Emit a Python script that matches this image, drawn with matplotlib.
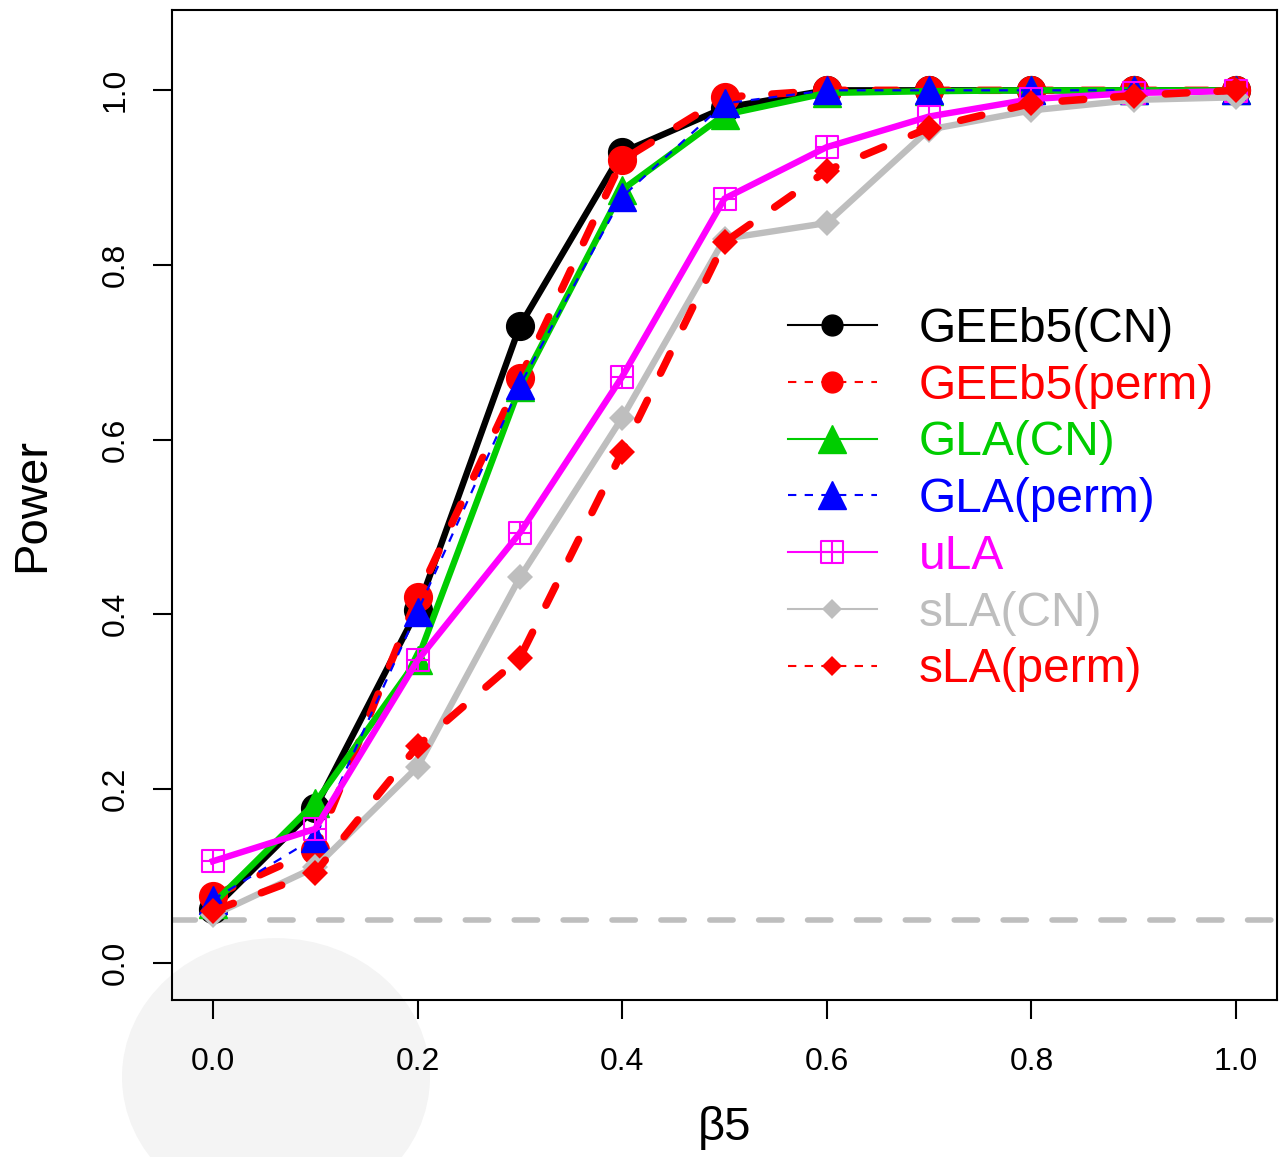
import numpy as np
import matplotlib
matplotlib.use("Agg")
import matplotlib.pyplot as plt
from matplotlib.lines import Line2D
from matplotlib.path import Path
from matplotlib.patches import Circle

# data
beta5 = [0.0, 0.1, 0.2, 0.3, 0.4, 0.5, 0.6, 0.7, 0.8, 0.9, 1.0]
gee_cn = [0.062, 0.178, 0.405, 0.730, 0.929, 0.980, 1.000, 1.000, 1.000, 1.000, 1.000]
gee_perm = [0.077, 0.130, 0.420, 0.670, 0.920, 0.992, 1.000, 1.000, 1.000, 1.000, 1.000]
gla_cn = [0.068, 0.184, 0.348, 0.660, 0.886, 0.972, 0.997, 0.999, 1.000, 1.000, 1.000]
gla_perm = [0.073, 0.144, 0.403, 0.662, 0.878, 0.985, 1.000, 1.000, 1.000, 1.000, 1.000]
ula = [0.117, 0.154, 0.347, 0.493, 0.672, 0.876, 0.935, 0.970, 0.990, 0.997, 0.999]
sla_cn = [0.055, 0.110, 0.225, 0.442, 0.625, 0.830, 0.848, 0.955, 0.977, 0.989, 0.992]
sla_perm = [0.060, 0.104, 0.249, 0.350, 0.586, 0.826, 0.908, 0.957, 0.985, 0.994, 1.000]
alpha_level = 0.05

labels = ["GEEb5(CN)", "GEEb5(perm)", "GLA(CN)", "GLA(perm)", "uLA", "sLA(CN)", "sLA(perm)"]

RED = "#FF0000"
GREEN = "#00CD00"
BLUE = "#0000FF"
MAGENTA = "#FF00FF"
GREY = "#BEBEBE"

# square with a plus inside (R pch 12)
sq_plus = Path(
    [(-1, -1), (1, -1), (1, 1), (-1, 1), (-1, -1), (0, -1), (0, 1), (-1, 0), (1, 0)],
    [Path.MOVETO, Path.LINETO, Path.LINETO, Path.LINETO, Path.CLOSEPOLY,
     Path.MOVETO, Path.LINETO, Path.MOVETO, Path.LINETO])

plt.rcParams['font.family'] = ['Liberation Sans', 'DejaVu Sans']

fig = plt.figure(figsize=(12.83, 11.57), dpi=100)
ax = fig.add_axes([172/1283, 157/1157, 1105/1283, 990/1157])
ax.set_facecolor('none')

# faint watermark disc
fig.patches.append(Circle((276/1283, 1 - 1077/1157), 154/1283, transform=fig.transFigure,
                          facecolor='#f4f4f4', edgecolor='none', zorder=-1))

ax.axhline(alpha_level, color=GREY, lw=4, ls=(0, (4.2, 4.6)), dash_capstyle='round', zorder=1)

red_dash = (0, (2.9, 4.0))
ax.plot(beta5, gee_cn, color='black', lw=4.6, marker='o', ms=20, zorder=2)
ax.plot(beta5, gee_perm, color=RED, lw=5.4, ls=red_dash, dash_capstyle='round',
        marker='o', ms=20, zorder=3)
ax.plot(beta5, gla_cn, color=GREEN, lw=4.6, marker='^', ms=20, zorder=4)
ax.plot(beta5, gla_perm, color=BLUE, lw=1.6, ls=(0, (4, 4)), marker='^', ms=20, zorder=5)
ax.plot(beta5, ula, color=MAGENTA, lw=4.6, marker=sq_plus, ms=16, mfc='none', mew=1.5, zorder=6)
ax.plot(beta5, sla_cn, color=GREY, lw=4.6, marker='D', ms=13, mew=0, zorder=7)
ax.plot(beta5, sla_perm, color=RED, lw=5.4, ls=red_dash, dash_capstyle='round',
        marker='D', ms=13, mew=0, zorder=8)

ax.set_xlim(-0.04, 1.04)
ax.set_ylim(-0.042, 1.092)
ax.set_xticks(np.arange(0, 1.01, 0.2))
ax.set_yticks(np.arange(0, 1.01, 0.2))
ax.set_xticklabels(['0.0', '0.2', '0.4', '0.6', '0.8', '1.0'])
ax.set_yticklabels(['0.0', '0.2', '0.4', '0.6', '0.8', '1.0'], rotation=90, va='center')
ax.tick_params(axis='both', length=14, width=1.5, labelsize=23, direction='out')
ax.tick_params(axis='x', pad=20)
ax.tick_params(axis='y', pad=16)
for s in ax.spines.values():
    s.set_linewidth(1.5)

ax.set_xlabel('β5', fontsize=34)
ax.set_ylabel('Power', fontsize=34)
ax.xaxis.set_label_coords(0.5, -0.129)
ax.yaxis.set_label_coords(-0.127, 0.5)
ax.xaxis.label.set_va('center')
ax.yaxis.label.set_va('center')

handles = [
    Line2D([], [], color='black', lw=1.5, marker='o', ms=15),
    Line2D([], [], color=RED, lw=1.5, ls=(0, (4, 4)), marker='o', ms=15),
    Line2D([], [], color=GREEN, lw=1.5, marker='^', ms=20),
    Line2D([], [], color=BLUE, lw=1.5, ls=(0, (4, 4)), marker='^', ms=20),
    Line2D([], [], color=MAGENTA, lw=1.5, marker=sq_plus, ms=16, mfc='none', mew=1.5),
    Line2D([], [], color=GREY, lw=1.5, marker='D', ms=10, mew=0),
    Line2D([], [], color=RED, lw=1.5, ls=(0, (4, 4)), marker='D', ms=10, mew=0),
]
text_colors = ['black', RED, GREEN, BLUE, MAGENTA, GREY, RED]
leg = ax.legend(handles, labels, loc='upper left', bbox_to_anchor=((788-172)/1105, (1000-307)/990),
                frameon=False, fontsize=34.5, handlelength=1.85, handletextpad=0.88,
                labelspacing=0.245, borderpad=0, borderaxespad=0)
for t, c in zip(leg.get_texts(), text_colors):
    t.set_color(c)

fig.savefig('out.png', dpi=100)
